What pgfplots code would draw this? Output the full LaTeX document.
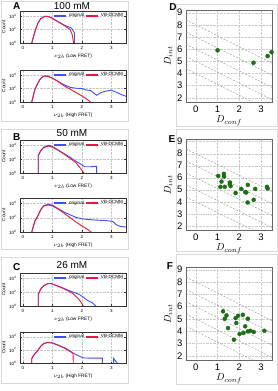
\documentclass[border=0pt]{standalone}
\usepackage{fontspec}
\setmainfont{Liberation Sans}
\usepackage{pgfplots}
\pgfplotsset{compat=1.18}
\pgfkeys{/pgf/number format/assume math mode=true}
\definecolor{origblue}{RGB}{60,80,255}
\definecolor{vbred}{RGB}{240,20,60}
\definecolor{dotgreen}{RGB}{30,110,20}
\pgfplotsset{
 lefth/.style={scale only axis, width=106pt, height=32pt, xmin=-0.1, xmax=3.5,
  ymin=1, ymax=5.5e4, xtick={0,1,2,3}, ytick={1,100,10000},
  yticklabels={10\textsuperscript{0},10\textsuperscript{2},10\textsuperscript{4}},
  minor y tick num=0, grid=major, grid style={densely dotted, gray!45, line width=0.3pt},
  axis line style={black!80, line width=0.4pt}, tick style={black!80, line width=0.3pt},
  major tick length=1.5pt,
  tick label style={font=\fontsize{4.5}{5}\selectfont},
  label style={font=\fontsize{4.8}{5}\selectfont},
  ylabel={Count}, ylabel style={yshift=-3pt}, xlabel style={yshift=3pt},
  legend columns=2,
  legend style={at={(0.995,0.995)}, anchor=north east, draw=none, fill=none,
    font=\fontsize{4.6}{5}\selectfont, inner sep=0.3pt},
  legend image post style={xscale=0.7, line width=1.2pt},
  every axis plot/.append style={line width=0.9pt}},
 righth/.style={scale only axis, width=86pt, height=92pt, xmin=-0.45, xmax=3.5,
  ymin=1.65, ymax=9.22, xtick={0,1,2,3}, ytick={2,3,4,5,6,7,8,9},
  grid=major, grid style={densely dotted, gray!40, line width=0.3pt},
  axis line style={black!60, line width=0.4pt}, tick style={draw=none},
  tick label style={font=\fontsize{9.5}{10}\selectfont},
  xlabel={$D_{conf}$}, ylabel={$D_{int}$},
  label style={font=\fontsize{10}{11}\selectfont},
  xlabel style={yshift=3pt}, ylabel style={yshift=-2pt}},
 dline/.style={gray!80, line width=0.45pt, dash pattern=on 2pt off 1.5pt},
 gdot/.style={only marks, mark=*, mark size=2pt, dotgreen}
}
\begin{document}
\begin{tikzpicture}
\useasboundingbox (0,0) rectangle (277pt,391pt);
% panel frames
\draw[gray!30, line width=0.4pt] (1pt,390pt) rectangle (128pt,270pt);
\draw[gray!30, line width=0.4pt] (1pt,262pt) rectangle (128pt,142pt);
\draw[gray!30, line width=0.4pt] (1pt,134pt) rectangle (128pt,8pt);
\draw[gray!30, line width=0.4pt] (176pt,387pt) rectangle (277pt,265pt);
\draw[gray!30, line width=0.4pt] (176pt,262pt) rectangle (277pt,140pt);
\draw[gray!30, line width=0.4pt] (176pt,137pt) rectangle (277pt,7pt);
% titles and letters
\node[font=\fontsize{10}{11}\selectfont] at (72pt,385pt) {100 mM};
\node[font=\fontsize{10}{11}\selectfont] at (72pt,258pt) {50 mM};
\node[font=\fontsize{10}{11}\selectfont] at (72pt,126pt) {26 mM};
\node[font=\bfseries\fontsize{10}{11}\selectfont] at (16.7pt,385pt) {A};
\node[font=\bfseries\fontsize{10}{11}\selectfont] at (16.7pt,254pt) {B};
\node[font=\bfseries\fontsize{10}{11}\selectfont] at (16.7pt,124pt) {C};
\node[font=\bfseries\fontsize{10}{11}\selectfont] at (173pt,384pt) {D};
\node[font=\bfseries\fontsize{10}{11}\selectfont] at (172pt,252pt) {E};
\node[font=\bfseries\fontsize{10}{11}\selectfont] at (170pt,125pt) {F};

% ---- A top
\begin{semilogyaxis}[lefth, at={(20pt,380pt)}, anchor=north west, height=32pt, xlabel={$\nu_{2b}$ (Low FRET)}]
\addplot[origblue] coordinates {(0.30,1)(0.40,40)(0.50,700)(0.60,4000)(0.75,9000)(0.85,8500)(1.0,4500)(1.2,1400)(1.4,450)(1.6,200)(1.65,160)(1.75,30)(1.75,1)};
\addlegendentry{original}
\addplot[vbred] coordinates {(0.30,1)(0.40,40)(0.50,700)(0.60,4000)(0.75,9000)(0.85,8500)(1.0,4500)(1.2,1300)(1.4,400)(1.6,100)(1.67,20)(1.72,1)};
\addlegendentry{VB-DCMM}
\end{semilogyaxis}
% ---- A bottom
\begin{semilogyaxis}[lefth, at={(20pt,321pt)}, anchor=north west, height=32pt, xlabel={$\nu_{2b}$ (High FRET)}]
\addplot[origblue] coordinates {(0.3,1)(0.4,60)(0.5,600)(0.6,3000)(0.7,6500)(0.82,7000)(1.0,3500)(1.2,1100)(1.4,350)(1.6,150)(1.8,110)(2.0,100)(2.15,60)(2.3,50)(2.5,10)(2.65,25)(2.8,40)(3.0,55)(3.2,25)(3.35,12)(3.5,7)};
\addlegendentry{original}
\addplot[vbred] coordinates {(0.3,1)(0.4,60)(0.5,600)(0.6,3000)(0.7,6500)(0.82,7000)(1.0,3500)(1.2,1000)(1.4,250)(1.6,80)(1.8,25)(2.0,8)(2.15,3)(2.3,1)};
\addlegendentry{VB-DCMM}
\end{semilogyaxis}
% ---- B top
\begin{semilogyaxis}[lefth, at={(20pt,251pt)}, anchor=north west, height=33pt, xlabel={$\nu_{2b}$ (Low FRET)}]
\addplot[origblue] coordinates {(0.52,1)(0.52,300)(0.6,1500)(0.7,5000)(0.85,9000)(0.9,9500)(1.0,6500)(1.2,2000)(1.4,600)(1.6,180)(1.8,50)(1.95,20)(2.1,8)(2.3,8)(2.5,9)(2.5,1)};
\addlegendentry{original}
\addplot[vbred] coordinates {(0.52,1)(0.52,300)(0.6,1500)(0.7,4500)(0.85,7000)(0.9,7000)(1.0,5000)(1.2,1800)(1.4,500)(1.6,130)(1.8,30)(1.95,5)(2.07,1)};
\addlegendentry{VB-DCMM}
\end{semilogyaxis}
% ---- B bottom
\begin{semilogyaxis}[lefth, at={(20pt,193pt)}, anchor=north west, height=34pt, xlabel={$\nu_{2b}$ (High FRET)}]
\addplot[origblue] coordinates {(0.3,1)(0.4,30)(0.5,150)(0.6,1200)(0.7,4500)(0.85,7500)(1.0,5500)(1.2,1800)(1.4,600)(1.6,250)(1.8,110)(2.0,70)(2.2,55)(2.5,45)(2.8,40)(3.05,30)(3.15,12)(3.3,6)(3.5,5)};
\addlegendentry{original}
\addplot[vbred] coordinates {(0.3,1)(0.4,30)(0.5,150)(0.6,1200)(0.7,4000)(0.85,6000)(1.0,4500)(1.2,1500)(1.4,400)(1.6,100)(1.8,25)(2.0,7)(2.15,3)(2.32,1)};
\addlegendentry{VB-DCMM}
\end{semilogyaxis}
% ---- C top
\begin{semilogyaxis}[lefth, at={(20pt,118pt)}, anchor=north west, height=33pt, xlabel={$\nu_{2b}$ (Low FRET)}]
\addplot[origblue] coordinates {(0.52,1)(0.52,45)(0.6,250)(0.7,800)(0.85,1700)(0.95,1700)(1.1,1000)(1.3,500)(1.5,220)(1.7,100)(1.9,50)(2.05,18)(2.2,6)(2.35,3)(2.48,1)};
\addlegendentry{original}
\addplot[vbred] coordinates {(0.52,1)(0.52,45)(0.6,250)(0.7,800)(0.85,1700)(0.95,1700)(1.1,1000)(1.3,450)(1.5,180)(1.7,60)(1.85,15)(1.95,5)(2.05,1)};
\addlegendentry{VB-DCMM}
\end{semilogyaxis}
% ---- C bottom
\begin{semilogyaxis}[lefth, at={(20pt,59pt)}, anchor=north west, height=31pt, xlabel={$\nu_{2b}$ (High FRET)}]
\addplot[origblue] coordinates {(0.3,1)(0.3,5)(0.4,25)(0.5,80)(0.6,350)(0.7,900)(0.85,1500)(1.0,1200)(1.2,550)(1.4,220)(1.55,100)(1.7,35)(1.85,15)(2.05,6)(2.3,5.5)(2.7,5.5)(2.7,1)};
\addlegendentry{original}
\addplot[vbred] coordinates {(0.3,1)(0.3,5)(0.4,25)(0.5,80)(0.6,350)(0.7,900)(0.85,1400)(1.0,1100)(1.2,500)(1.4,200)(1.55,80)(1.7,30)(1.71,1)};
\addlegendentry{VB-DCMM}
\addplot[origblue, forget plot] coordinates {(3.08,1)(3.08,5)(3.2,1)};
\end{semilogyaxis}

% ---- D
\begin{axis}[righth, at={(186pt,381pt)}, anchor=north west]
\addplot[dline] coordinates {(-0.45,8.4)(3.5,4.85)};
\addplot[dline] coordinates {(-0.45,7.4)(3.5,3.85)};
\addplot[dline] coordinates {(-0.45,6.4)(3.5,2.85)};
\addplot[dline] coordinates {(-0.45,5.4)(3.5,1.85)};
\addplot[dline] coordinates {(-0.45,4.4)(3.5,0.85)};
\addplot[gdot] coordinates {(1.0,5.9)(2.65,4.88)(3.3,5.43)(3.48,5.75)};
\end{axis}
% ---- E
\begin{axis}[righth, at={(186pt,252pt)}, anchor=north west, height=91pt]
\addplot[dline] coordinates {(-0.45,8.4)(3.5,4.85)};
\addplot[dline] coordinates {(-0.45,7.4)(3.5,3.85)};
\addplot[dline] coordinates {(-0.45,6.4)(3.5,2.85)};
\addplot[dline] coordinates {(-0.45,5.4)(3.5,1.85)};
\addplot[dline] coordinates {(-0.45,4.4)(3.5,0.85)};
\addplot[gdot] coordinates {(1.03,6.15)(1.29,6.32)(1.30,6.1)(1.18,5.68)(1.13,5.24)(1.33,5.24)(1.56,5.46)(1.6,5.3)(1.57,5.6)(1.83,4.72)(2.09,5.07)(2.27,4.8)(2.32,4.77)(2.39,5.4)(2.38,3.94)(2.66,4.16)(2.73,5.07)(3.27,5.24)(3.3,5.1)};
\end{axis}
% ---- F
\begin{axis}[righth, at={(186pt,124pt)}, anchor=north west, height=93pt]
\addplot[dline] coordinates {(-0.45,8.4)(3.5,4.85)};
\addplot[dline] coordinates {(-0.45,7.4)(3.5,3.85)};
\addplot[dline] coordinates {(-0.45,6.4)(3.5,2.85)};
\addplot[dline] coordinates {(-0.45,5.4)(3.5,1.85)};
\addplot[dline] coordinates {(-0.45,4.4)(3.5,0.85)};
\addplot[gdot] coordinates {(1.25,5.61)(1.41,5.28)(1.33,5.01)(1.48,4.25)(1.75,3.3)(1.83,5.06)(1.94,5.25)(1.86,4.66)(2.16,5.33)(2.01,3.77)(2.19,3.85)(2.27,4.39)(2.39,5.01)(2.39,3.98)(2.51,4.03)(2.66,3.93)(3.15,4.03)};
\end{axis}
\end{tikzpicture}
\end{document}
